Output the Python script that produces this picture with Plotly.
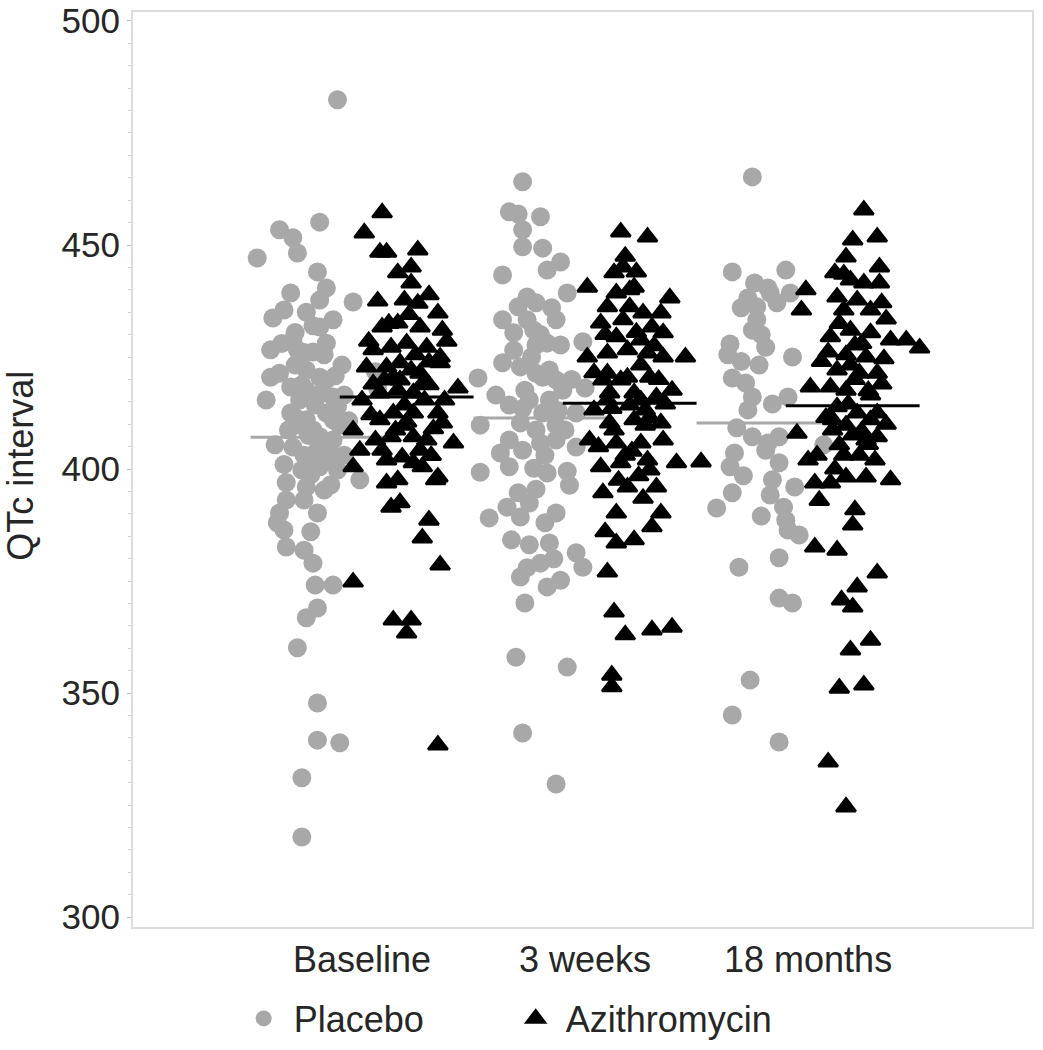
import plotly.graph_objects as go

categories = ["Baseline", "3 weeks", "18 months"]
groups = ["Placebo", "Azithromycin"]
y_title = "QTc interval"

# group means (horizontal bars)
means_placebo = [407.1, 411.4, 410.3]
means_azithro = [416.1, 414.7, 414.1]

# ---- Baseline, Placebo ----
bp_jit = [-0.11, -0.19, -0.37, -0.31, -0.29, -0.47, -0.20, -0.32, -0.16, -0.04,
          -0.40, -0.35, -0.25, -0.19, -0.19, -0.13, -0.31, -0.29, -0.16, -0.09,
          -0.41, -0.37, -0.25, -0.19, -0.16, -0.32, -0.25, -0.13, -0.32, -0.25,
          -0.16, -0.11, -0.33, -0.22, -0.13, -0.31, -0.20, -0.13, -0.27, -0.19,
          -0.11, -0.01, -0.25, -0.17, -0.34, -0.26, -0.37, -0.20, -0.38, -0.35,
          -0.23, -0.34, -0.26, -0.22, -0.21, -0.13, -0.20, -0.25, -0.29, -0.20,
          -0.20, -0.10, -0.27, -0.27, -0.28, -0.21, -0.08, -0.28, -0.19, -0.10,
          -0.26, -0.08, -0.39, -0.43, -0.30, -0.22, -0.23, -0.14, -0.35, -0.41,
          0.06, 0.07,
          -0.30, -0.22, -0.27, -0.18, -0.12, -0.24, -0.15, -0.30, -0.21, -0.34,
          -0.17, -0.36, -0.06, -0.14, -0.26]
bp_val = [482.4, 455.1, 453.4, 451.6, 448.2, 447.1, 444.0, 439.3, 440.4, 437.3,
          433.7, 435.5, 435.0, 437.7, 431.7, 433.3, 428.8, 426.6, 428.1, 423.2,
          420.5, 421.4, 422.1, 420.5, 419.9, 418.3, 417.6, 416.1, 412.5, 411.0,
          412.5, 413.9, 408.7, 408.7, 411.0, 404.9, 404.2, 406.5, 399.8, 400.5,
          399.8, 397.6, 396.0, 395.3, 393.1, 393.1, 390.2, 390.2, 388.0, 386.4,
          386.0, 382.6, 381.9, 379.0, 374.1, 374.1, 369.0, 366.8, 360.1, 347.8,
          339.5, 338.9, 331.1, 317.9, 415.4, 414.3, 416.5, 409.8, 407.2, 409.8,
          403.1, 403.1, 405.4, 415.4, 423.2, 426.1, 398.7, 402.0, 401.0, 426.6,
          421.7, 417.9,
          430.5, 432.0, 418.8, 417.0, 420.8, 407.5, 405.0, 411.5, 400.8, 397.0,
          425.5, 428.0, 410.8, 396.5, 426.0]

# ---- Baseline, Azithromycin ----
ba_jit = [0.09, 0.01, 0.08, 0.11, 0.25, 0.16, 0.22, 0.22, 0.30, 0.19,
          0.34, 0.09, 0.16, 0.26, 0.36, 0.05, 0.13, 0.20, 0.29, 0.35,
          0.02, 0.11, 0.22, 0.26, 0.35, 0.43, 0.00, 0.08, 0.16, 0.23,
          -0.04, 0.08, 0.14, 0.23, 0.34, 0.36, 0.13, 0.23, 0.29, 0.41,
          -0.01, 0.09, 0.18, 0.23, -0.04, 0.34, 0.11, 0.16, 0.33, 0.13,
          0.30, 0.27, 0.35, -0.04, 0.14, 0.22, 0.20, 0.34, 0.17, 0.28,
          0.19, 0.30, 0.15, 0.26, 0.37, 0.06, 0.24, 0.17, 0.30, 0.10,
          0.19, 0.04,
          0.12, 0.21, 0.27, 0.14, 0.05, 0.32, 0.20, 0.11, 0.27, 0.38,
          0.03, 0.25, 0.07, 0.17, 0.31]
ba_val = [457.2, 452.7, 448.4, 448.4, 448.9, 443.8, 445.1, 441.5, 438.9, 437.7,
          434.8, 431.7, 432.6, 431.7, 431.0, 426.6, 427.2, 428.1, 427.2, 425.0,
          422.8, 422.8, 422.1, 421.4, 423.7, 418.1, 415.4, 417.0, 417.6, 417.0,
          408.7, 411.0, 412.5, 412.5, 412.5, 410.3, 407.2, 407.2, 406.5, 405.8,
          404.2, 404.2, 402.7, 401.4, 400.5, 398.2, 396.9, 397.6, 397.6, 391.5,
          388.6, 384.6, 378.6, 374.8, 366.3, 366.3, 363.4, 338.4, 419.9, 415.4,
          414.3, 418.8, 408.7, 404.2, 415.4, 406.5, 425.5, 423.7, 423.9, 419.9,
          409.8, 412.1,
          432.5, 434.5, 419.0, 420.5, 419.0, 409.0, 410.5, 402.0, 400.5, 428.5,
          428.5, 437.0, 437.5, 392.5, 403.0]

# ---- 3 weeks, Placebo ----
wp_jit = [-0.28, -0.34, -0.30, -0.20, -0.28, -0.28, -0.19, -0.11, -0.17, -0.37,
          -0.08, -0.26, -0.30, -0.22, -0.37, -0.26, -0.13, -0.32, -0.23, -0.17,
          -0.11, -0.01, -0.22, -0.37, -0.29, -0.22, -0.16, -0.48, -0.10, 0.00,
          -0.13, -0.19, -0.34, -0.25, -0.19, -0.04, -0.47, -0.29, -0.13, -0.38,
          -0.28, -0.20, -0.13, -0.04, -0.47, -0.34, -0.23, -0.17, -0.07, -0.30,
          -0.25, -0.29, -0.43, -0.13, -0.33, -0.25, -0.16, -0.04, -0.20, -0.01,
          -0.29, -0.11, -0.17, -0.27, -0.31, -0.08, -0.28, -0.13, -0.27, -0.16,
          -0.22, -0.34, -0.09, -0.18, -0.40,
          -0.24, -0.15, -0.32, -0.20, -0.06, -0.28, -0.12, -0.22, -0.35, -0.18,
          -0.08, -0.26, -0.14]
wp_val = [464.1, 457.4, 456.9, 456.3, 453.4, 449.6, 449.3, 446.2, 444.4, 443.3,
          439.3, 438.4, 436.2, 437.1, 433.3, 433.3, 433.3, 430.4, 431.0, 428.1,
          427.7, 428.4, 427.7, 423.7, 422.8, 421.4, 422.1, 420.3, 417.6, 418.1,
          419.9, 420.5, 414.3, 415.4, 412.5, 412.5, 409.8, 410.3, 409.8, 403.6,
          404.2, 405.8, 406.5, 404.9, 399.3, 400.5, 400.2, 399.1, 396.4, 394.7,
          392.4, 389.3, 389.1, 390.2, 384.2, 383.1, 383.5, 381.3, 379.0, 378.1,
          375.9, 375.2, 373.7, 370.1, 358.0, 355.8, 341.1, 329.7, 417.6, 415.4,
          408.7, 406.5, 408.7, 403.1, 416.5,
          425.0, 436.0, 426.5, 430.0, 420.0, 413.5, 413.0, 395.5, 391.5, 388.0,
          399.5, 378.0, 380.0]

# ---- 3 weeks, Azithromycin ----
wa_jit = [0.16, 0.28, 0.17, 0.23, 0.13, 0.01, 0.14, 0.22, 0.38, 0.10,
          0.20, 0.34, 0.07, 0.17, 0.30, 0.26, 0.14, 0.25, 0.35, 0.01,
          0.10, 0.19, 0.28, 0.35, 0.45, 0.10, 0.19, 0.29, 0.39, 0.11,
          0.22, 0.32, 0.08, 0.10, 0.20, 0.27, 0.11, 0.22, 0.34, 0.14,
          0.25, 0.35, 0.07, 0.16, 0.28, 0.41, 0.52, 0.08, 0.19, 0.32,
          0.14, 0.34, 0.30, 0.14, 0.22, 0.10, 0.13, 0.18, 0.30, 0.39,
          0.12, 0.12, 0.13, 0.27, 0.18, 0.29, 0.25, 0.16, 0.04, 0.25,
          0.02, 0.20,
          0.09, 0.23, 0.31, 0.12, 0.29, 0.06, 0.21, 0.36, 0.15, 0.26,
          0.04, 0.33, 0.18, 0.24, 0.09]
wa_val = [452.9, 451.8, 445.1, 444.0, 443.8, 440.6, 439.3, 440.6, 438.2, 436.2,
          436.2, 434.8, 432.6, 433.3, 431.7, 434.8, 429.5, 428.8, 430.4, 425.0,
          425.9, 426.6, 425.9, 425.0, 425.0, 421.4, 420.5, 420.5, 417.6, 417.0,
          417.0, 416.1, 419.9, 415.4, 414.3, 413.2, 410.3, 411.0, 410.3, 405.8,
          405.8, 406.5, 400.5, 401.4, 402.0, 401.4, 401.6, 394.7, 396.0, 396.0,
          390.2, 390.2, 387.1, 383.5, 384.2, 377.0, 368.1, 363.0, 364.1, 364.7,
          354.0, 351.4, 408.7, 409.8, 403.1, 399.8, 415.4, 419.9, 413.2, 423.2,
          406.5, 440.0,
          430.0, 430.5, 427.5, 413.5, 411.5, 405.0, 404.0, 414.5, 397.5, 393.5,
          421.5, 420.0, 447.5, 398.5, 386.0]

# ---- 18 months, Placebo ----
mp_jit = [-0.25, -0.34, -0.10, -0.18, -0.27, -0.30, -0.23, -0.14, -0.08, -0.17,
          -0.23, -0.25, -0.35, -0.36, -0.19, -0.07, -0.22, -0.34, -0.28, -0.25,
          -0.09, -0.27, -0.32, -0.25, -0.13, -0.18, -0.33, -0.35, -0.13, -0.19,
          -0.16, -0.34, -0.17, -0.41, -0.11, -0.10, -0.09, -0.04, -0.31, -0.13,
          -0.13, -0.07, -0.26, -0.34, -0.13, 0.07,
          -0.21, -0.30, -0.16, -0.29, -0.21, -0.06, -0.24]
mp_val = [465.2, 444.0, 444.4, 440.4, 438.2, 436.0, 436.2, 437.1, 439.3, 439.3,
          433.3, 431.0, 427.9, 425.5, 427.2, 425.0, 423.2, 420.3, 419.2, 416.1,
          416.1, 413.2, 409.2, 407.2, 407.2, 405.8, 403.6, 400.5, 401.4, 404.2,
          397.6, 394.7, 394.2, 391.3, 391.5, 388.6, 386.4, 385.3, 378.1, 380.2,
          371.2, 370.1, 352.9, 345.1, 339.1, 405.4,
          430.0, 424.0, 414.5, 398.5, 389.5, 396.0, 441.5]

# ---- 18 months, Azithromycin ----
ma_jit = [0.25, 0.20, 0.31, 0.17, 0.32, 0.12, 0.19, 0.25, 0.32, -0.01,
          0.13, 0.22, 0.33, -0.03, 0.16, 0.28, 0.10, 0.19, 0.28, 0.37,
          0.44, 0.50, 0.09, 0.17, 0.26, 0.34, 0.13, 0.23, 0.31, 0.01,
          0.10, 0.17, 0.28, 0.13, 0.22, 0.31, 0.11, 0.17, -0.05, 0.11,
          0.20, 0.31, 0.00, 0.04, 0.16, 0.23, 0.30, 0.03, 0.10, 0.17,
          0.26, 0.37, 0.21, 0.20, 0.03, 0.13, 0.31, 0.22, 0.15, 0.20,
          0.28, 0.19, 0.14, 0.25, 0.09, 0.17, 0.19, 0.26, 0.14, 0.21,
          0.28,
          0.14, 0.24, 0.35, 0.06, 0.18, 0.27, 0.08, 0.24, 0.35, 0.12,
          0.27, 0.21, 0.05, 0.33, 0.16]
ma_val = [457.8, 451.1, 451.8, 447.3, 445.1, 443.8, 442.2, 441.5, 441.5, 440.0,
          438.4, 437.7, 437.1, 435.5, 435.5, 435.5, 429.5, 431.0, 430.4, 428.8,
          428.8, 427.0, 426.1, 425.5, 425.0, 424.6, 422.1, 421.4, 421.4, 418.3,
          418.3, 417.6, 416.5, 413.9, 412.5, 412.5, 411.0, 409.8, 408.0, 408.7,
          407.6, 407.2, 402.0, 403.1, 403.1, 403.1, 402.0, 396.9, 396.9, 398.2,
          398.2, 397.6, 390.9, 387.5, 382.6, 381.9, 376.8, 373.7, 370.8, 369.2,
          361.8, 359.6, 351.1, 351.8, 334.6, 324.6, 423.2, 406.5, 405.4, 427.7,
          411.0,
          432.5, 428.0, 433.5, 424.0, 414.5, 417.5, 411.5, 408.5, 410.0, 400.0,
          405.5, 420.0, 393.0, 419.0, 443.5]

placebo_jit = [bp_jit, wp_jit, mp_jit]
placebo_val = [bp_val, wp_val, mp_val]
azithro_jit = [ba_jit, wa_jit, ma_jit]
azithro_val = [ba_val, wa_val, ma_val]

GREY = "#a8a8a8"
BLACK = "#000000"
FONT = "Arial, Liberation Sans, sans-serif"
TXT = "#262626"
SIDE = 0.2
HALF = 0.3

fig = go.Figure()

# placebo points
px, py = [], []
for i, (js, vs) in enumerate(zip(placebo_jit, placebo_val)):
    px += [i + 1 + j for j in js]
    py += vs
fig.add_trace(go.Scatter(x=px, y=py, mode="markers", name=groups[0],
                         marker=dict(symbol="circle", size=19, color=GREY)))

# mean lines
for i, m in enumerate(means_placebo):
    c = i + 1 - SIDE
    fig.add_trace(go.Scatter(x=[c - HALF, c + HALF], y=[m, m], mode="lines",
                             line=dict(color=GREY, width=3), showlegend=False,
                             hoverinfo="skip"))
for i, m in enumerate(means_azithro):
    c = i + 1 + SIDE
    fig.add_trace(go.Scatter(x=[c - HALF, c + HALF], y=[m, m], mode="lines",
                             line=dict(color=BLACK, width=3), showlegend=False,
                             hoverinfo="skip"))

# azithromycin points
ax, ay = [], []
for i, (js, vs) in enumerate(zip(azithro_jit, azithro_val)):
    ax += [i + 1 + j for j in js]
    ay += vs
fig.add_trace(go.Scatter(x=ax, y=ay, mode="markers", name=groups[1],
                         marker=dict(symbol="triangle-up", size=17, color=BLACK,
                                     line=dict(color=BLACK, width=2.5))))

fig.update_layout(
    width=1043, height=1050,
    margin=dict(l=133, r=11, t=12, b=123, autoexpand=False),
    paper_bgcolor="white", plot_bgcolor="white",
    font=dict(family=FONT, size=36, color=TXT),
    showlegend=True,
    legend=dict(orientation="h", x=0.112, xanchor="left", y=-0.1, yanchor="middle",
                font=dict(size=36, color=TXT), itemwidth=50,
                entrywidth=207, entrywidthmode="pixels",
                bgcolor="rgba(0,0,0,0)"),
    xaxis=dict(range=[-0.027, 4.004], tickvals=[1, 2, 3], ticktext=categories,
               automargin=False, ticklabeloverflow="allow",
               showgrid=False, zeroline=False, showline=True, mirror=True,
               linecolor="#dcdcdc", linewidth=2, ticks="",
               tickfont=dict(size=36, color=TXT)),
    yaxis=dict(range=[297.8, 502.0], tickvals=[300, 350, 400, 450, 500],
               automargin=False, ticklabeloverflow="allow",
               showgrid=False, zeroline=False, showline=True, mirror=True,
               linecolor="#dcdcdc", linewidth=2, ticks="outside", ticklen=4,
               tickcolor="#bdbdbd", tickwidth=1,
               minor=dict(dtick=5, ticks="outside", ticklen=3, tickcolor="#d0d0d0"),
               tickfont=dict(size=35, color=TXT)),
    annotations=[dict(text=y_title, xref="paper", yref="paper",
                      x=-0.1246, y=0.504, xanchor="center", yanchor="middle",
                      textangle=-90, showarrow=False,
                      font=dict(size=36, color=TXT))],
)

fig.write_html("out.html", config={"displayModeBar": False},
               post_script="document.body.style.margin='0';")
